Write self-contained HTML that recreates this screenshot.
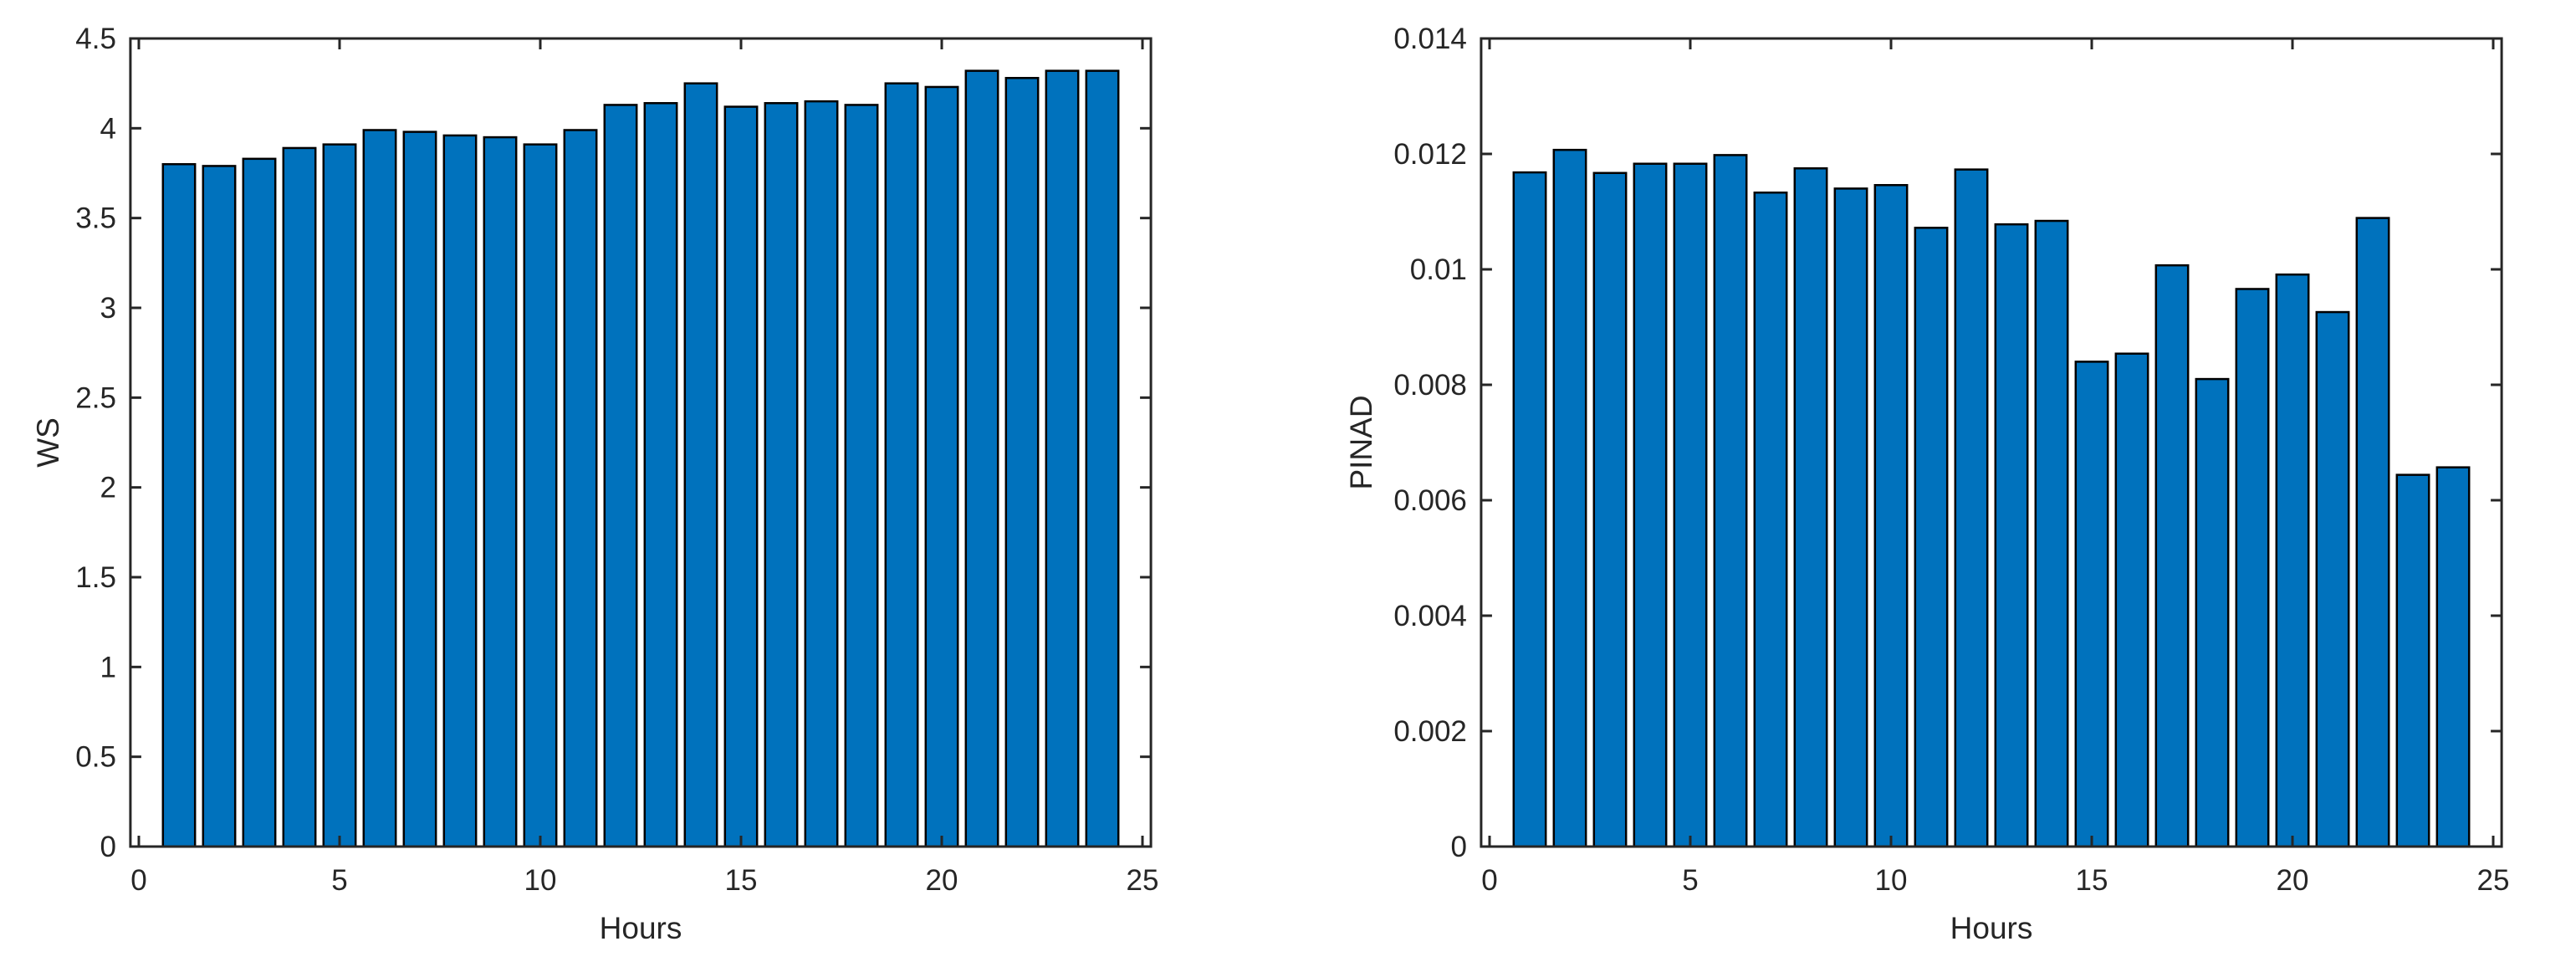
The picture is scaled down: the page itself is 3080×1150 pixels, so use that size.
<!DOCTYPE html>
<html><head><meta charset="utf-8"><style>
html,body{margin:0;padding:0;background:#fff;}
svg{display:block;font-family:"Liberation Sans",Arial,sans-serif;}
</style></head><body>
<svg id="c" width="3080" height="1150" viewBox="0 0 3080 1150" xmlns="http://www.w3.org/2000/svg"></svg>
<script>
const hours = [1,2,3,4,5,6,7,8,9,10,11,12,13,14,15,16,17,18,19,20,21,22,23,24];
const wsValues = [3.80,3.79,3.83,3.89,3.91,3.99,3.98,3.96,3.95,3.91,3.99,4.13,4.14,4.25,4.12,4.14,4.15,4.13,4.25,4.23,4.32,4.28,4.32,4.32];
const pinadValues = [0.01168,0.01207,0.01167,0.01183,0.01183,0.01198,0.01133,0.01175,0.0114,0.01146,0.01072,0.01173,0.01078,0.01084,0.0084,0.00854,0.01007,0.0081,0.00966,0.00991,0.00926,0.01089,0.00644,0.00657];
const xTicks = [0,5,10,15,20,25];
const wsTicks = [0,0.5,1,1.5,2,2.5,3,3.5,4,4.5];
const wsTickLabels = ["0","0.5","1","1.5","2","2.5","3","3.5","4","4.5"];
const pinadTicks = [0,0.002,0.004,0.006,0.008,0.01,0.012,0.014];
const pinadTickLabels = ["0","0.002","0.004","0.006","0.008","0.01","0.012","0.014"];

const svg = document.getElementById('c');
const NS = 'http://www.w3.org/2000/svg';
function mk(tag, attrs, parent){
  const e = document.createElementNS(NS, tag);
  for (const k in attrs) e.setAttribute(k, attrs[k]);
  (parent||svg).appendChild(e);
  return e;
}
function panel(opt){
  const g = mk('g', {});
  
  
  const top = 46, bottom = 1012;
  const x0 = opt.x0, pxu = 48;
  const xs = v => x0 + v * pxu;
  const ys = v => bottom - (v / opt.ymax) * (bottom - top);
  const left = xs(-0.21), right = xs(25.21);
  opt.values.forEach((v, i) => {
    const r = mk('rect', {x: xs(hours[i] - 0.4), y: ys(v), width: 0.8 * pxu, height: bottom - ys(v), fill: '#0072BD', stroke: '#000', 'stroke-width': 2.5}, g);
    
    
  });
  const box = mk('rect', {x: left, y: top, width: right - left, height: bottom - top, fill: 'none', stroke: '#262626', 'stroke-width': 3}, g);
  
  
  xTicks.forEach(t => {
    const x = xs(t);
    mk('line', {x1: x, y1: bottom, x2: x, y2: bottom - 13, stroke: '#262626', 'stroke-width': 3}, g);
    mk('line', {x1: x, y1: top, x2: x, y2: top + 13, stroke: '#262626', 'stroke-width': 3}, g);
    const tx = mk('text', {x: x, y: 1064, 'font-size': 35, fill: '#262626', 'text-anchor': 'middle'}, g);
    tx.textContent = String(t);
    
    
  });
  opt.ticks.forEach((t, i) => {
    const y = ys(t);
    mk('line', {x1: left, y1: y, x2: left + 13, y2: y, stroke: '#262626', 'stroke-width': 3}, g);
    mk('line', {x1: right, y1: y, x2: right - 13, y2: y, stroke: '#262626', 'stroke-width': 3}, g);
    const tx = mk('text', {x: left - 17, y: y + 12, 'font-size': 35, fill: '#262626', 'text-anchor': 'end'}, g);
    tx.textContent = opt.tickLabels[i];
    
    
  });
  const xl = mk('text', {x: (left + right) / 2, y: 1122, 'font-size': 37, fill: '#262626', 'text-anchor': 'middle'}, g);
  xl.textContent = 'Hours';
  
  
  const yl = mk('text', {x: 0, y: 0, 'font-size': 37, fill: '#262626', 'text-anchor': 'middle', transform: 'translate(' + opt.ylx + ',' + ((top + bottom) / 2) + ') rotate(-90)'}, g);
  yl.textContent = opt.ylabel;
  
  
}
panel({name: 'ws-panel', x0: 166, values: wsValues, ymax: 4.5, ticks: wsTicks, tickLabels: wsTickLabels, ylabel: 'WS', ylx: 70});
panel({name: 'pinad-panel', x0: 1781, values: pinadValues, ymax: 0.014, ticks: pinadTicks, tickLabels: pinadTickLabels, ylabel: 'PINAD', ylx: 1640});
</script>
</body></html>
